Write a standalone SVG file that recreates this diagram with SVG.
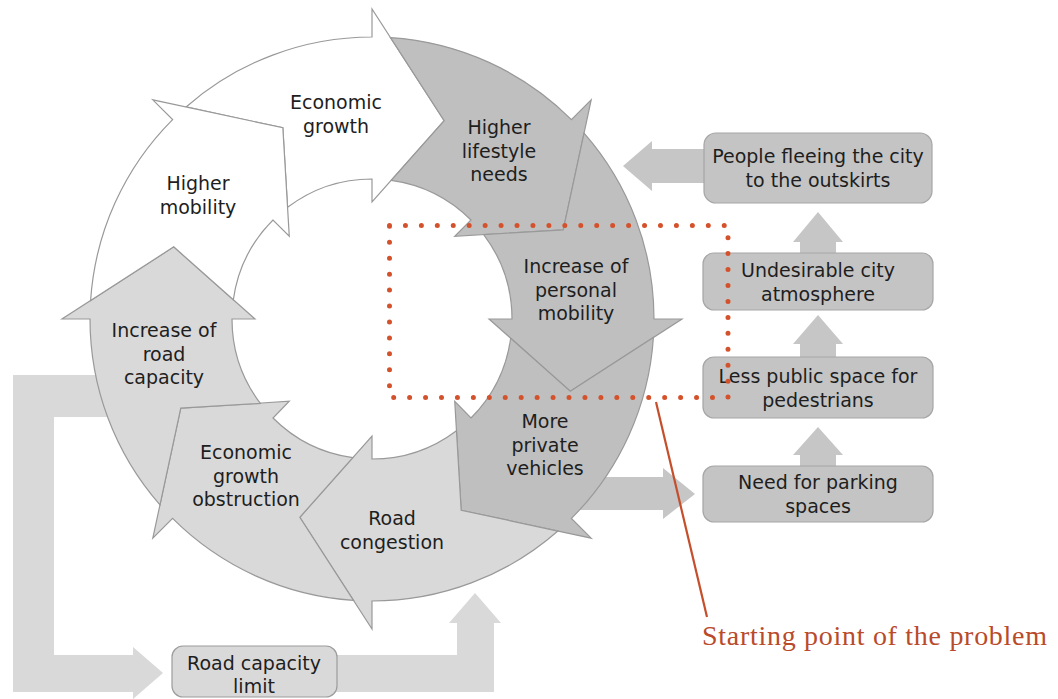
<svg xmlns="http://www.w3.org/2000/svg" width="1058" height="699" viewBox="0 0 1058 699">
<style>
.t{font-family:"DejaVu Sans","Verdana","Liberation Sans",sans-serif;font-size:19px;fill:#1e1e1e;text-anchor:middle}
.ring{stroke:#999;stroke-width:1.2;stroke-linejoin:miter}
.w{fill:#ffffff}
.d{fill:#bfbfbf}
.l{fill:#d9d9d9}
.box{fill:#c4c4c4;stroke:#a6a6a6;stroke-width:1.2}
.boxl{fill:#d9d9d9;stroke:#9c9c9c;stroke-width:1.2}
.ca{fill:#c6c6c6}
.cl{fill:#d9d9d9}
</style>
<rect width="1058" height="699" fill="#ffffff"/>
<g id="connectors">
<polygon class="ca" points="704,149 652,149 652,141 623,166 652,191 652,183 704,183"/>
<polygon class="ca" points="800,254 800,242 793,242 818,212 843,242 836,242 836,254"/>
<polygon class="ca" points="800,358 800,344 793,344 818,315 843,344 836,344 836,358"/>
<polygon class="ca" points="800,467 800,455 793,455 818,427 843,455 836,455 836,467"/>
<polygon class="ca" points="560,477 663,477 663,468 695,494 663,519 663,510 560,510"/>
<polygon class="cl" points="120,375 13,375 13,692 133,692 133,699 163,673 133,647 133,655 54,655 54,417 120,417"/>
<polygon class="cl" points="330,655 457,655 457,623 449,623 475,593 501,623 494,623 494,692 330,692"/>
</g>
<g id="node-economic-growth">
<path class="ring w" d="M186.09,106.96 A282,282 0 0 1 372,37 L372,9 L444.17,120.73 L372,202 L372,179 A140,140 0 0 0 287.55,207.34 L282.83,127.77 Z"/>
<text class="t" x="336" y="109">Economic<tspan x="336" dy="23.5">growth</tspan></text>
</g>
<g id="node-higher-lifestyle-needs">
<path class="ring d" d="M390.48,37.61 A282,282 0 0 1 571.40,119.60 L591.20,99.80 L563.23,229.83 L454.73,236.27 L470.99,220.01 A140,140 0 0 0 391.25,180.33 L444.17,120.73 Z"/>
<text class="t" x="499" y="134">Higher<tspan x="499" dy="23.5">lifestyle</tspan><tspan x="499" dy="23.5">needs</tspan></text>
</g>
<g id="node-increase-personal-mobility">
<path class="ring d" d="M584.04,133.09 A282,282 0 0 1 654,319 L682,319 L570.27,391.17 L489,319 L512,319 A140,140 0 0 0 483.66,234.55 L563.23,229.83 Z"/>
<text class="t" x="576" y="273">Increase of<tspan x="576" dy="23.5">personal</tspan><tspan x="576" dy="23.5">mobility</tspan></text>
</g>
<g id="node-more-private-vehicles">
<path class="ring d" d="M653.39,337.48 A282,282 0 0 1 571.40,518.40 L591.20,538.20 L461.17,510.23 L454.73,401.27 L470.99,417.99 A140,140 0 0 0 510.67,338.25 L570.27,391.17 Z"/>
<text class="t" x="545" y="428">More<tspan x="545" dy="23.5">private</tspan><tspan x="545" dy="23.5">vehicles</tspan></text>
</g>
<g id="node-road-congestion">
<path class="ring l" d="M557.91,531.04 A282,282 0 0 1 372,601 L372,629 L299.83,517.27 L372,436 L372,459 A140,140 0 0 0 456.45,430.66 L461.17,510.23 Z"/>
<text class="t" x="392" y="525">Road<tspan x="392" dy="23.5">congestion</tspan></text>
</g>
<g id="node-economic-growth-obstruction">
<path class="ring l" d="M353.52,600.39 A282,282 0 0 1 172.60,518.40 L152.80,538.20 L180.77,408.17 L289.27,401.27 L273.01,417.99 A140,140 0 0 0 352.76,457.67 L299.83,517.27 Z"/>
<text class="t" x="246" y="459">Economic<tspan x="246" dy="23.5">growth</tspan><tspan x="246" dy="23.5">obstruction</tspan></text>
</g>
<g id="node-increase-road-capacity">
<path class="ring l" d="M159.96,504.91 A282,282 0 0 1 90,319 L62,319 L173.73,246.83 L255,319 L232,319 A140,140 0 0 0 260.34,403.45 L180.77,408.17 Z"/>
<text class="t" x="164" y="337">Increase of<tspan x="164" dy="23.5">road</tspan><tspan x="164" dy="23.5">capacity</tspan></text>
</g>
<g id="node-higher-mobility">
<path class="ring w" d="M90.61,300.52 A282,282 0 0 1 172.60,119.60 L152.80,99.80 L282.83,127.77 L289.27,236.27 L273.01,220.01 A140,140 0 0 0 233.33,299.76 L173.73,246.83 Z"/>
<text class="t" x="198" y="190">Higher<tspan x="198" dy="23.5">mobility</tspan></text>
</g>
<g id="node-people-fleeing">
<rect class="box" x="704" y="133" width="228" height="70" rx="12"/>
<text class="t" x="818" y="163">People fleeing the city<tspan x="818" dy="24">to the outskirts</tspan></text>
</g>
<g id="node-undesirable-atmosphere">
<rect class="box" x="703" y="253" width="230" height="57" rx="11"/>
<text class="t" x="818" y="277">Undesirable city<tspan x="818" dy="23.5">atmosphere</tspan></text>
</g>
<g id="node-less-public-space">
<rect class="box" x="703" y="357" width="230" height="61" rx="11"/>
<text class="t" x="818" y="383">Less public space for<tspan x="818" dy="24">pedestrians</tspan></text>
</g>
<g id="node-need-parking">
<rect class="box" x="703" y="466" width="230" height="56" rx="11"/>
<text class="t" x="818" y="489">Need for parking<tspan x="818" dy="24">spaces</tspan></text>
</g>
<g id="node-road-capacity-limit">
<rect class="boxl" x="172" y="646" width="165" height="51" rx="11"/>
<text class="t" x="254" y="670">Road capacity<tspan x="254" dy="22.5">limit</tspan></text>
</g>
<g id="annotation">
<rect x="389.5" y="225.5" width="338.5" height="172" fill="none" stroke="#d4522b" stroke-width="5" stroke-linecap="round" stroke-dasharray="0 15.94"/>
<line x1="656" y1="402" x2="707" y2="617" stroke="#c54e2b" stroke-width="2.2"/>
<text x="702" y="645" font-family="Liberation Serif, Times New Roman, serif" font-size="28" fill="#b94a2a" textLength="345" lengthAdjust="spacing">Starting point of the problem</text>
</g>
</svg>
